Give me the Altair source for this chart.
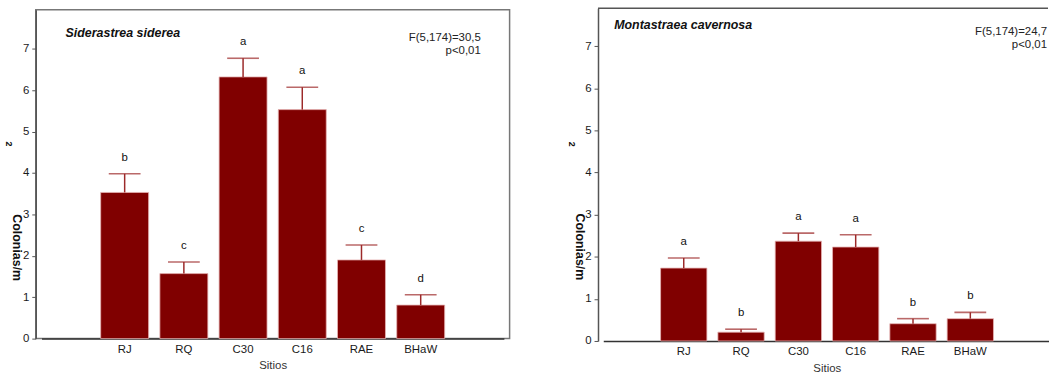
import altair as alt
import pandas as pd

sites = ["RJ", "RQ", "C30", "C16", "RAE", "BHaW"]

sid_mean = [3.53, 1.57, 6.32, 5.53, 1.90, 0.81]
sid_err = [3.98, 1.85, 6.77, 6.07, 2.26, 1.06]
sid_letters = ["b", "c", "a", "a", "c", "d"]

mon_mean = [1.73, 0.21, 2.37, 2.23, 0.41, 0.53]
mon_err = [1.97, 0.28, 2.56, 2.52, 0.53, 0.68]
mon_letters = ["a", "b", "a", "a", "b", "b"]

FONT = "Liberation Sans"
BAR = "#800000"
ERR = "#9c2a2a"


def panel(mean, err, letters, species, fstat, W, H, ymax, pin, xrange,
          sp_xy, f_xy, ytitle_xy, two_xy, sitios_x, frame_full):
    df = pd.DataFrame({"site": sites, "mean": mean, "err": err, "let": letters})
    xenc = alt.X(
        "site:N", sort=sites,
        scale=alt.Scale(paddingInner=pin, paddingOuter=1, range=xrange),
        axis=alt.Axis(title="Sitios", labelAngle=0, ticks=False, labelPadding=5,
                      labelFont=FONT, labelFontSize=11.5, labelColor="#1a1a1a",
                      titleFont=FONT, titleFontSize=11.5, titleFontWeight="normal",
                      titleColor="#333", titlePadding=5, titleX=sitios_x,
                      domainColor="#333", domainWidth=1.5),
    )
    yscale = alt.Scale(domain=[0, ymax], nice=False, zero=True)
    yenc = alt.Y(
        "mean:Q", scale=yscale,
        axis=alt.Axis(title="Colonias/m", values=list(range(8)), format="d",
                      grid=False, tickSize=4, tickColor="#555", labelPadding=3,
                      labelFont=FONT, labelFontSize=11.5, labelColor="#1a1a1a",
                      domainColor="#555", domainWidth=1.5,
                      titleFont=FONT, titleFontSize=12.5, titleFontWeight="bold",
                      titleColor="#111", titleAngle=90, titleAlign="center",
                      titleBaseline="middle", titleX=ytitle_xy[0],
                      titleY=ytitle_xy[1]),
    )
    base = alt.Chart(df).encode(x=xenc)
    bars = base.mark_bar(color=BAR, stroke="#e6b3b3", strokeWidth=0.8).encode(y=yenc)
    rule = base.mark_rule(color=ERR, strokeWidth=1.5).encode(
        y=alt.Y("mean:Q", scale=yscale), y2="err:Q")
    tick = base.mark_tick(color=ERR, size=32, thickness=1.6, orient="horizontal").encode(
        y=alt.Y("err:Q", scale=yscale))
    lets = base.mark_text(font=FONT, fontSize=11.5, color="#111", baseline="alphabetic",
                          dy=-13).encode(y=alt.Y("err:Q", scale=yscale), text="let:N")

    sp = alt.Chart(pd.DataFrame({"t": [species]})).mark_text(
        font=FONT, fontSize=12.5, fontWeight="bold", fontStyle="italic",
        align="left", baseline="middle", color="#111").encode(
        x=alt.value(sp_xy[0]), y=alt.value(sp_xy[1]), text="t:N")
    f1 = alt.Chart(pd.DataFrame({"t": [fstat]})).mark_text(
        font=FONT, fontSize=11.5, align="right", baseline="middle", color="#222").encode(
        x=alt.value(f_xy[0]), y=alt.value(f_xy[1]), text="t:N")
    f2 = alt.Chart(pd.DataFrame({"t": ["p<0,01"]})).mark_text(
        font=FONT, fontSize=11.5, align="right", baseline="middle", color="#222").encode(
        x=alt.value(f_xy[0]), y=alt.value(f_xy[1] + 12.6), text="t:N")
    two = alt.Chart(pd.DataFrame({"t": ["2"]})).mark_text(
        font=FONT, fontSize=9, fontWeight="bold", angle=90, align="center",
        baseline="middle", color="#111").encode(
        x=alt.value(two_xy[0]), y=alt.value(two_xy[1]), text="t:N")

    layers = [bars, rule, tick, lets, sp, f1, f2, two]
    if not frame_full:
        top = alt.Chart(pd.DataFrame({"t": [0]})).mark_rule(
            color="#555", strokeWidth=1.5).encode(
            x=alt.value(0), x2=alt.value(W + 2), y=alt.value(0))
        layers.append(top)
    ch = alt.layer(*layers).properties(width=W, height=H)
    if frame_full:
        ch = ch.properties(view=alt.ViewConfig(stroke="#777", strokeWidth=1.5))
    else:
        ch = ch.properties(view=alt.ViewConfig(stroke=None))
    return ch


left = panel(sid_mean, sid_err, sid_letters, "Siderastrea siderea", "F(5,174)=30,5",
             W=477, H=331, ymax=7.94, pin=0.19, xrange=[5.75, 471.25],
             sp_xy=(30, 23.7), f_xy=(448, 28.7), ytitle_xy=(-19, 239),
             two_xy=(-27, 135), sitios_x=238.5, frame_full=True)
right = panel(mon_mean, mon_err, mon_letters, "Montastraea cavernosa", "F(5,174)=24,7",
              W=451, H=335, ymax=7.90, pin=0.192, xrange=[5.3, 455.8],
              sp_xy=(16.3, 17.3), f_xy=(452, 24), ytitle_xy=(-18.7, 239.8),
              two_xy=(-26.7, 137), sitios_x=230.3, frame_full=False)

chart = alt.hconcat(left, right, spacing=56, center=True).properties(
    padding={"left": 3, "right": 0, "top": 6, "bottom": 0}
).configure(background="white")

chart.save("out.html", embed_options={"renderer": "svg", "actions": False})
